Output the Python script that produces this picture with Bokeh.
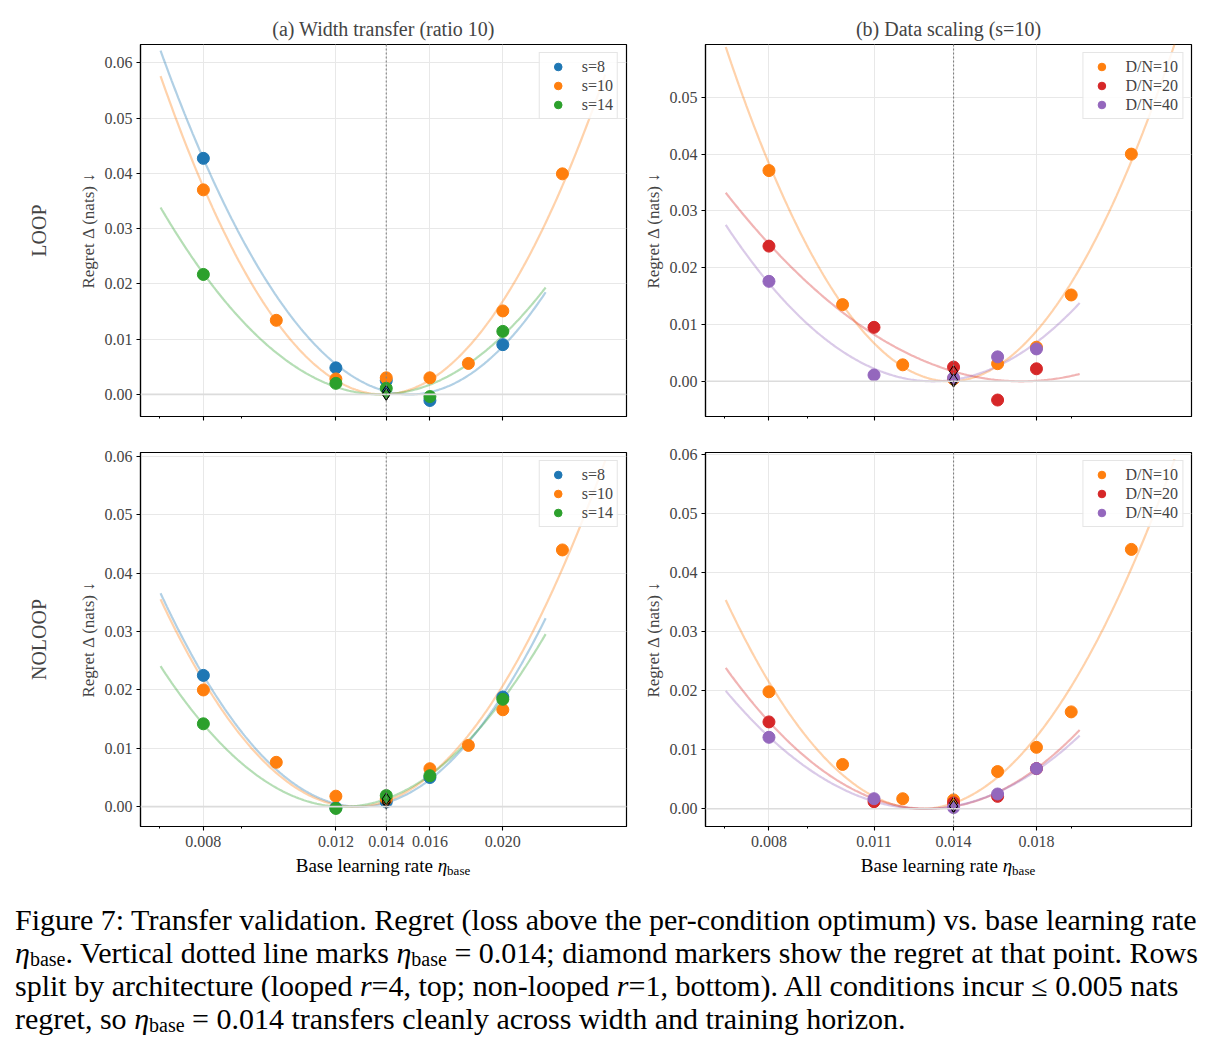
import numpy as np
from bokeh.plotting import figure
from bokeh.models import (Range1d, FixedTicker, NumeralTickFormatter, Span,
                          LinearAxis, Div, CustomJSTickFormatter)
from bokeh.layouts import column, row
from bokeh.embed import file_html
from bokeh.resources import INLINE

SERIF = "Liberation Serif"

# ---- learning-rate grids ----
lr_width_small = [0.008, 0.012, 0.014, 0.016, 0.020]
lr_width_s10 = [0.008, 0.010, 0.012, 0.014, 0.016, 0.018, 0.020, 0.024]
lr_data_d10 = [0.008, 0.010, 0.012, 0.014, 0.016, 0.018, 0.020, 0.024]
lr_data_small = [0.008, 0.011, 0.014, 0.016, 0.018]

# ---- regret (nats), looped r=4 ----
loop_s8 = [0.0427, 0.0048, 0.0025, -0.0011, 0.0090]
loop_s10 = [0.0370, 0.0134, 0.0028, 0.0030, 0.0030, 0.0056, 0.0151, 0.0399]
loop_s14 = [0.0217, 0.0020, 0.0011, -0.0004, 0.0114]
loop_d10 = [0.0371, 0.0135, 0.0029, 0.0004, 0.0031, 0.0060, 0.0152, 0.0400]
loop_d20 = [0.0238, 0.0095, 0.0025, -0.0033, 0.0022]
loop_d40 = [0.0176, 0.0011, 0.0006, 0.0043, 0.0057]

# ---- regret (nats), non-looped r=1 ----
noloop_s8 = [0.0225, -0.0002, 0.0008, 0.0050, 0.0188]
noloop_s10 = [0.0200, 0.0076, 0.0018, 0.0013, 0.0065, 0.0105, 0.0166, 0.0440]
noloop_s14 = [0.0142, -0.0003, 0.0019, 0.0053, 0.0184]
noloop_d10 = [0.0198, 0.0075, 0.0017, 0.0015, 0.0063, 0.0104, 0.0164, 0.0439]
noloop_d20 = [0.0147, 0.0012, 0.0010, 0.0021, 0.0068]
noloop_d40 = [0.0121, 0.0017, 0.0002, 0.0025, 0.0068]

# ---- labels / ticks ----
width_labels = ["s=8", "s=10", "s=14"]
data_labels = ["D/N=10", "D/N=20", "D/N=40"]
width_xticks = [0.008, 0.012, 0.014, 0.016, 0.020]
width_xminor = [0.007, 0.009]
data_xticks = [0.008, 0.011, 0.014, 0.018]
data_xminor = [0.007, 0.009, 0.020]
eta_ref = 0.014

BLUE, ORANGE, GREEN, RED, PURPLE = "#1f77b4", "#ff7f0e", "#2ca02c", "#d62728", "#9467bd"
FIT_PAD = 1.14  # fitted curve extends this factor past the sampled lr range


def regret_fit(xs, ys):
    """Quadratic in log(lr); returned curve is shifted so its optimum sits at 0."""
    c = np.polyfit(np.log(np.asarray(xs)), np.asarray(ys), 2)
    vmin = c[2] - c[1] ** 2 / (4 * c[0])
    return lambda lx: np.polyval(c, lx) - vmin


def style_axis(ax, size="16px"):
    ax.axis_line_color = "black"
    ax.axis_line_width = 1.2
    ax.major_tick_line_color = "black"
    ax.major_tick_line_width = 1.1
    ax.major_tick_out = 4
    ax.major_tick_in = 0
    ax.minor_tick_line_color = "black"
    ax.minor_tick_out = 2
    ax.minor_tick_in = 0
    ax.major_label_text_font = SERIF
    ax.major_label_text_font_size = size
    ax.major_label_standoff = 4


def panel(series, x_lo, x_hi, y_lo, y_hi, y_ticks, x_ticks, x_minor, frame_h,
          borders, title=None, show_xlabels=False, row_label=None):
    kw = {}
    if title is not None:
        kw["title"] = title
    p = figure(frame_width=486, frame_height=frame_h, x_axis_type="log",
               x_range=Range1d(x_lo, x_hi), y_range=Range1d(y_lo, y_hi),
               output_backend="svg", toolbar_location=None,
               min_border_left=borders[0], min_border_right=borders[1],
               min_border_top=borders[2], min_border_bottom=borders[3], **kw)
    p.background_fill_color = "white"
    p.border_fill_color = "white"
    p.outline_line_color = "black"
    p.outline_line_width = 1.2
    p.outline_line_alpha = 1.0
    if title is not None:
        p.title.text_font = SERIF
        p.title.text_font_size = "20px"
        p.title.text_font_style = "normal"
        p.title.align = "center"
        p.title.standoff = 9

    p.xaxis.ticker = FixedTicker(ticks=x_ticks, minor_ticks=x_minor)
    p.yaxis.ticker = FixedTicker(ticks=y_ticks, minor_ticks=[])
    if show_xlabels:
        p.xaxis.formatter = NumeralTickFormatter(format="0.000")
    else:
        p.xaxis.formatter = CustomJSTickFormatter(code="return ''")
    p.yaxis.formatter = NumeralTickFormatter(format="0.00")
    style_axis(p.xaxis[0])
    style_axis(p.yaxis[0])
    p.xaxis.major_label_standoff = 5
    p.yaxis.axis_label = "Regret Δ (nats) ↓"
    p.yaxis.axis_label_text_font = SERIF
    p.yaxis.axis_label_text_font_size = "17px"
    p.yaxis.axis_label_text_font_style = "normal"
    p.yaxis.axis_label_standoff = 4

    p.xgrid.grid_line_color = "#e8e8e8"
    p.ygrid.grid_line_color = "#e8e8e8"

    p.add_layout(Span(location=0.0, dimension="width", line_color="#dcdcdc", line_width=1.6))
    p.add_layout(Span(location=eta_ref, dimension="height", line_color="#808080",
                      line_width=1.1, line_dash="2 2"))

    fits = [regret_fit(xs, ys) for _, _, xs, ys in series]
    # fitted curves first, then points, then diamonds at the reference lr
    for (label, color, xs, ys), f in zip(series, fits):
        lx = np.linspace(np.log(min(xs) / FIT_PAD), np.log(max(xs) * FIT_PAD), 240)
        p.line(np.exp(lx), f(lx), line_color=color, line_width=2.2, line_alpha=0.35)
    for label, color, xs, ys in series:
        p.scatter(xs, ys, size=12, fill_color=color, line_color=color, legend_label=label)
    for (label, color, xs, ys), f in zip(series, fits):
        p.scatter([eta_ref], [f(np.log(eta_ref))], marker="diamond", size=12,
                  fill_color=color, line_color="black", line_width=1)

    lg = p.legend[0]
    lg.location = "top_right"
    lg.label_text_font = SERIF
    lg.label_text_font_size = "16px"
    lg.glyph_width = 28
    lg.glyph_height = 19
    lg.label_standoff = 10
    lg.spacing = 0
    lg.padding = 4
    lg.margin = 8
    lg.border_line_color = "#cccccc"
    lg.border_line_width = 1
    lg.background_fill_alpha = 0.85

    if row_label is not None:
        ax = LinearAxis(axis_label=row_label, ticker=FixedTicker(ticks=[]),
                        axis_line_color=None, major_tick_line_color=None,
                        minor_tick_line_color=None, major_tick_out=0, minor_tick_out=0,
                        major_label_standoff=0)
        ax.axis_label_text_font = SERIF
        ax.axis_label_text_font_size = "20px"
        ax.axis_label_text_font_style = "normal"
        ax.axis_label_standoff = 26
        p.add_layout(ax, "left")
    return p


p_tl = panel([(width_labels[0], BLUE, lr_width_small, loop_s8),
              (width_labels[1], ORANGE, lr_width_s10, loop_s10),
              (width_labels[2], GREEN, lr_width_small, loop_s14)],
             0.0066, 0.0292, -0.0040, 0.0633, [0, 0.01, 0.02, 0.03, 0.04, 0.05, 0.06],
             width_xticks, width_xminor, 372, (140, 14, 44, 18),
             title="(a) Width transfer (ratio 10)", row_label="LOOP")

p_tr = panel([(data_labels[0], ORANGE, lr_data_d10, loop_d10),
              (data_labels[1], RED, lr_data_small, loop_d20),
              (data_labels[2], PURPLE, lr_data_small, loop_d40)],
             0.0066, 0.0288, -0.0062, 0.0593, [0, 0.01, 0.02, 0.03, 0.04, 0.05],
             data_xticks, data_xminor, 372, (65, 28, 44, 18),
             title="(b) Data scaling (s=10)")

p_bl = panel([(width_labels[0], BLUE, lr_width_small, noloop_s8),
              (width_labels[1], ORANGE, lr_width_s10, noloop_s10),
              (width_labels[2], GREEN, lr_width_small, noloop_s14)],
             0.0066, 0.0292, -0.0034, 0.0607, [0, 0.01, 0.02, 0.03, 0.04, 0.05, 0.06],
             width_xticks, width_xminor, 374, (140, 14, 18, 30),
             show_xlabels=True, row_label="NOLOOP")

p_br = panel([(data_labels[0], ORANGE, lr_data_d10, noloop_d10),
              (data_labels[1], RED, lr_data_small, noloop_d20),
              (data_labels[2], PURPLE, lr_data_small, noloop_d40)],
             0.0066, 0.0288, -0.0030, 0.0603, [0, 0.01, 0.02, 0.03, 0.04, 0.05, 0.06],
             data_xticks, data_xminor, 374, (65, 28, 18, 30),
             show_xlabels=True)

XLABEL = 'Base learning rate <i>η</i><sub style="font-size:13px;vertical-align:-3px;line-height:0">base</sub>'


def xlabel_div(width, pad_left):
    html = ('<div style="box-sizing:border-box;width:%dpx;padding-left:%dpx;text-align:center;'
            'font-family:\'Liberation Serif\',serif;font-size:19px;line-height:20px;color:#000;'
            'white-space:nowrap;">%s</div>' % (width, pad_left, XLABEL))
    return Div(text=html, width=width, height=29, margin=0)


xlabels = row(xlabel_div(640, 126), xlabel_div(579, 37), spacing=0)

SUB = '<sub style="font-size:20px;line-height:0;vertical-align:-3px">base</sub>'
ETA = '<i>η</i>' + SUB
caption_html = (
    '<div style="font-family:\'Liberation Serif\',serif;font-size:30px;line-height:33px;'
    'color:#000;white-space:nowrap;padding:18px 0 0 15px;">'
    'Figure 7: Transfer validation. Regret (loss above the per-condition optimum) vs. base learning rate<br>'
    + ETA + '. Vertical dotted line marks ' + ETA + ' = 0.014; diamond markers show the regret at that point. Rows<br>'
    'split by architecture (looped <i>r</i>=4, top; non-looped <i>r</i>=1, bottom). All conditions incur ≤ 0.005 nats<br>'
    'regret, so ' + ETA + ' = 0.014 transfers cleanly across width and training horizon.'
    '</div>'
)
caption = Div(text=caption_html, width=1219, height=171, margin=0)

layout = column(row(p_tl, p_tr, spacing=0), row(p_bl, p_br, spacing=0), xlabels, caption,
                spacing=0)

open("out.html", "w").write(file_html(layout, INLINE))
